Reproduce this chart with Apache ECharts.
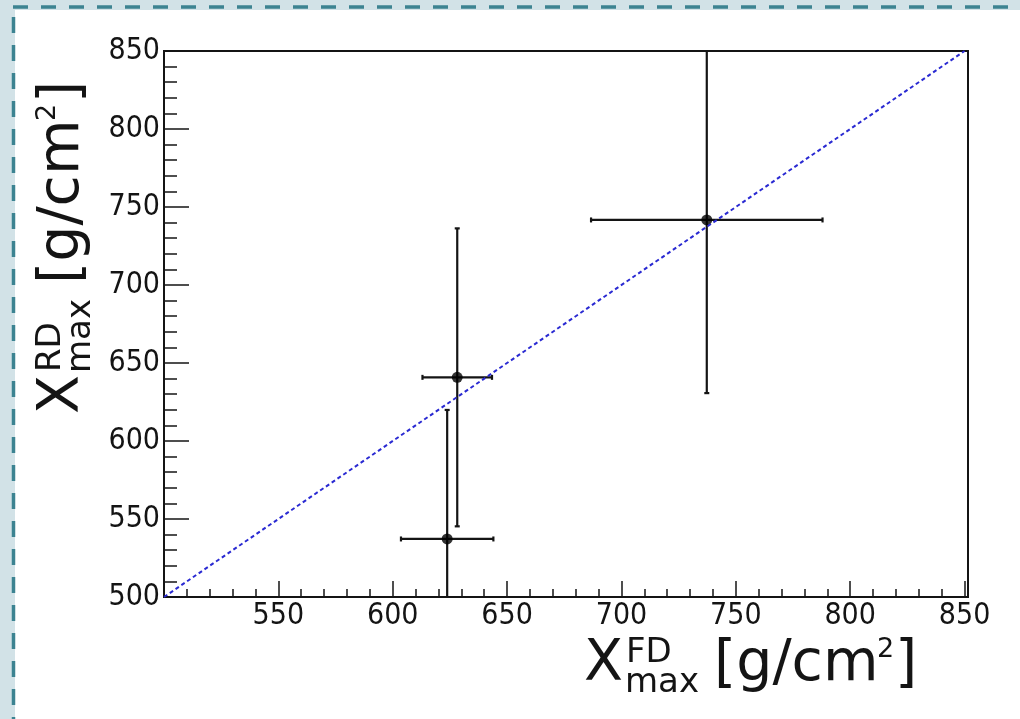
<!DOCTYPE html>
<html>
<head>
<meta charset="utf-8">
<script src="https://cdn.jsdelivr.net/npm/echarts@6/dist/echarts.min.js"></script>
<style>
  html, body { margin: 0; padding: 0; background: #ffffff; }
  #chart { width: 1020px; height: 719px; }
</style>
</head>
<body>
<div id="chart"></div>
<script>
// Xmax reconstructed by the radio detector (RD) vs. fluorescence detector (FD)
const xmaxFD = [623.8, 628.2, 737.3];
const xmaxRD = [537.2, 640.8, 741.7];
const errFD = [20.2, 15.2, 50.6];
const errRD = [82.7, 95.5, 111.0];

// y = x reference line
const diagonal = [[500, 500], [850, 850]];

// Axis ticks and labels
const xMajorTicks = [500, 550, 600, 650, 700, 750, 800, 850];
const xTickLabels = [550, 600, 650, 700, 750, 800, 850];
const yMajorTicks = [500, 550, 600, 650, 700, 750, 800, 850];
const yTickLabels = [500, 550, 600, 650, 700, 750, 800, 850];
const minorStep = 10;

const X_MIN = 500, X_MAX = 851.5, Y_MIN = 500, Y_MAX = 850;

function minorTicks(min, max, majors) {
  const out = [];
  for (let v = min; v <= max + 1e-9; v += minorStep) {
    if (!majors.includes(Math.round(v))) out.push(Math.round(v));
  }
  return out;
}
const xMinorTicks = minorTicks(500, 850, xMajorTicks);
const yMinorTicks = minorTicks(500, 850, yMajorTicks);

const points = xmaxFD.map((x, i) => [x, xmaxRD[i], errFD[i], errRD[i]]);

const FONT = "'DejaVu Sans Condensed', 'DejaVu Sans', sans-serif";
const TITLE_FONT = "'DejaVu Sans', sans-serif";
const INK = '#141414';

// Axis title built from pieces: X with stacked super/subscript, then unit
function titlePieces(sup) {
  const t = (text, x, base, size) => ({
    type: 'text',
    style: {
      text: text, x: x, y: base - 0.35 * size,
      font: size + 'px ' + TITLE_FONT, fill: INK,
      align: 'left', verticalAlign: 'middle',
      textAlign: 'left', textVerticalAlign: 'middle'
    }
  });
  return [
    t('X', -1, 0, 57),
    t(sup, 41, -20, 34),
    t('max', 40, 10, 34),
    t('[g/cm', 129, 0, 57),
    t('2', 292, -26, 27),
    t(']', 310, 0, 57)
  ];
}

const chart = echarts.init(document.getElementById('chart'), null, { renderer: 'canvas' });

const baseAxis = {
  type: 'value',
  splitLine: { show: false },
  axisLine: { show: true, onZero: false, lineStyle: { color: INK, width: 2 } }
};

chart.setOption({
  backgroundColor: '#ffffff',
  animation: false,
  grid: {
    left: 164, top: 51, right: 52, bottom: 122,
    show: true, borderColor: INK, borderWidth: 2, backgroundColor: 'transparent',
    containLabel: false
  },
  xAxis: [
    Object.assign({}, baseAxis, {
      min: X_MIN, max: X_MAX, position: 'bottom',
      axisTick: { show: true, inside: true, length: 16, customValues: xMajorTicks,
        lineStyle: { color: INK, width: 1.5 } },
      axisLabel: { show: true, customValues: xTickLabels, margin: 4,
        fontFamily: FONT, fontSize: 30, color: INK }
    }),
    Object.assign({}, baseAxis, {
      min: X_MIN, max: X_MAX, position: 'bottom',
      axisLine: { show: false },
      axisTick: { show: true, inside: true, length: 8, customValues: xMinorTicks,
        lineStyle: { color: INK, width: 1.5 } },
      axisLabel: { show: false }
    })
  ],
  yAxis: [
    Object.assign({}, baseAxis, {
      min: Y_MIN, max: Y_MAX, position: 'left',
      axisTick: { show: true, inside: true, length: 25, customValues: yMajorTicks,
        lineStyle: { color: INK, width: 1.5 } },
      axisLabel: { show: true, customValues: yTickLabels, margin: 4,
        fontFamily: FONT, fontSize: 30, color: INK }
    }),
    Object.assign({}, baseAxis, {
      min: Y_MIN, max: Y_MAX, position: 'left',
      axisLine: { show: false },
      axisTick: { show: true, inside: true, length: 13, customValues: yMinorTicks,
        lineStyle: { color: INK, width: 1.5 } },
      axisLabel: { show: false }
    })
  ],
  graphic: [
    // page margin strips with dashed rules
    { type: 'rect', shape: { x: 0, y: 0, width: 1020, height: 10 }, style: { fill: '#d2e2e7' }, z: -10 },
    { type: 'rect', shape: { x: 0, y: 0, width: 15, height: 719 }, style: { fill: '#d2e2e7' }, z: -10 },
    { type: 'line', shape: { x1: 13, y1: 7, x2: 1020, y2: 7 },
      style: { stroke: '#3c8391', lineWidth: 3.5, lineDash: [15, 13] }, z: -9 },
    { type: 'line', shape: { x1: 13.5, y1: 17, x2: 13.5, y2: 719 },
      style: { stroke: '#3c8391', lineWidth: 3.5, lineDash: [16, 12] }, z: -9 },
    // axis titles
    { type: 'group', x: 585, y: 685, children: titlePieces('FD') },
    { type: 'group', x: 83, y: 413, rotation: Math.PI / 2, children: titlePieces('RD') }
  ],
  series: [
    {
      name: 'errors',
      type: 'custom',
      xAxisIndex: 0, yAxisIndex: 0,
      z: 3,
      data: points,
      encode: { x: 0, y: 1 },
      renderItem: function (params, api) {
        const x = api.value(0), y = api.value(1), ex = api.value(2), ey = api.value(3);
        const cs = params.coordSys;
        const c = api.coord([x, y]);
        const xl = api.coord([x - ex, y])[0], xr = api.coord([x + ex, y])[0];
        const yt = api.coord([x, y + ey])[1], yb = api.coord([x, y - ey])[1];
        const clampX = v => Math.max(cs.x, Math.min(cs.x + cs.width, v));
        const clampY = v => Math.max(cs.y, Math.min(cs.y + cs.height, v));
        const style = { stroke: INK, lineWidth: 2.2 };
        const cap = 2.5;
        const kids = [
          { type: 'line', shape: { x1: clampX(xl), y1: c[1], x2: clampX(xr), y2: c[1] }, style },
          { type: 'line', shape: { x1: c[0], y1: clampY(yt), x2: c[0], y2: clampY(yb) }, style }
        ];
        if (xl >= cs.x) kids.push({ type: 'line', shape: { x1: xl, y1: c[1] - cap, x2: xl, y2: c[1] + cap }, style });
        if (xr <= cs.x + cs.width) kids.push({ type: 'line', shape: { x1: xr, y1: c[1] - cap, x2: xr, y2: c[1] + cap }, style });
        if (yt >= cs.y) kids.push({ type: 'line', shape: { x1: c[0] - cap, y1: yt, x2: c[0] + cap, y2: yt }, style });
        if (yb <= cs.y + cs.height) kids.push({ type: 'line', shape: { x1: c[0] - cap, y1: yb, x2: c[0] + cap, y2: yb }, style });
        return { type: 'group', children: kids };
      }
    },
    {
      name: 'points',
      type: 'scatter',
      xAxisIndex: 0, yAxisIndex: 0,
      z: 4,
      symbol: 'circle',
      symbolSize: 11,
      itemStyle: { color: '#000000' },
      data: points.map(p => [p[0], p[1]])
    },
    {
      name: 'diagonal',
      type: 'line',
      xAxisIndex: 0, yAxisIndex: 0,
      z: 6,
      symbol: 'none',
      data: diagonal,
      lineStyle: { color: '#2a2ad2', width: 2, type: [4, 3] }
    }
  ]
});
</script>
</body>
</html>
